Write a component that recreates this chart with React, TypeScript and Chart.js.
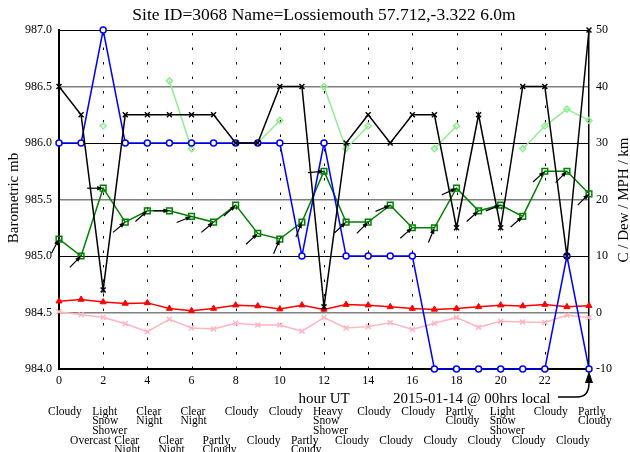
import React, { useEffect, useRef } from 'react';
import { Chart, registerables } from 'chart.js';
Chart.register(...registerables);

const HOURS = [0, 1, 2, 3, 4, 5, 6, 7, 8, 9, 10, 11, 12, 13, 14, 15, 16, 17, 18, 19, 20, 21, 22, 23, 24];
const PRESSURE_MB = [986.5, 986.25, 984.7, 986.25, 986.25, 986.25, 986.25, 986.25, 986.0, 986.0, 986.5, 986.5, 984.55, 986.0, 986.25, 986.0, 986.25, 986.25, 985.25, 986.25, 985.25, 986.5, 986.5, 985.0, 987.0];
const VISIBILITY_KM = [30, 30, 50, 30, 30, 30, 30, 30, 30, 30, 30, 10, 30, 10, 10, 10, 10, -10, -10, -10, -10, -10, -10, 10, -10];
const WIND_MPH = [13, 10, 22, 16, 18, 18, 17, 16, 19, 14, 13, 16, 25, 16, 16, 19, 15, 15, 22, 18, 19, 17, 25, 25, 21];
const WIND_FROM_DEG = [208, 225, 270, 230, 228, 270, 248, 230, 227, 227, 203, 202, 265, 227, 225, 247, 229, 202, 246, 228, 249, 229, 228, 225, 225];
const GUST_MPH = [null, null, 33, null, null, 41, 29, null, null, 30, 34, null, 40, 29, 33, null, null, 29, 33, null, null, 29, 33, 36, 34];
const TEMP_C = [2.0, 2.3, 1.85, 1.6, 1.7, 0.7, 0.3, 0.7, 1.3, 1.15, 0.6, 1.3, 0.55, 1.4, 1.3, 1.0, 0.7, 0.55, 0.7, 1.0, 1.3, 1.15, 1.4, 1.0, 1.2];
const DEW_C = [0.15, -0.4, -0.85, -2.0, -3.4, -1.2, -2.75, -2.9, -1.9, -2.2, -2.2, -3.3, -0.9, -2.75, -2.5, -1.8, -3.0, -1.9, -0.9, -2.6, -1.55, -1.7, -1.75, -0.5, -0.9];
const WEATHER = [
  'Cloudy', 'Overcast', 'Light\nSnow\nShower', 'Clear\nNight', 'Clear\nNight', 'Clear\nNight',
  'Clear\nNight', 'Partly\nCloudy', 'Cloudy', 'Cloudy', 'Cloudy', 'Partly\nCoudy',
  'Heavy\nSnow\nShower', 'Cloudy', 'Cloudy', 'Cloudy', 'Cloudy', 'Cloudy',
  'Partly\nCloudy', 'Cloudy', 'Light\nSnow\nShower', 'Cloudy', 'Cloudy', 'Cloudy', 'Partly\nCloudy',
];
const X_TICK_LABELS = ['0', '2', '4', '6', '8', '10', '12', '14', '16', '18', '20', '22', ''];

const TITLE = 'Site ID=3068 Name=Lossiemouth 57.712,-3.322 6.0m';
const LEFT_TITLE = 'Barometric mb';
const RIGHT_TITLE = 'C / Dew / MPH / km';
const X_TITLE = 'hour UT';
const DATE_NOTE = '2015-01-14 @ 00hrs local';

const FONT = '"Liberation Serif", "Times New Roman", serif';

const pts = (vals: (number | null)[]) => HOURS.map((h, i) => ({ x: h, y: vals[i] }));

const decorPlugin = {
  id: 'decor',
  beforeDatasetsDraw(chart: any) {
    const { ctx, chartArea, scales } = chart;
    const xs = scales.x;
    ctx.save();
    ctx.strokeStyle = '#000';
    ctx.lineWidth = 1;
    ctx.setLineDash([2.5, 12]);
    for (let h = 2; h <= 22; h += 2) {
      const px = Math.round(xs.getPixelForValue(h)) + 0.5;
      ctx.beginPath();
      ctx.moveTo(px, chartArea.bottom);
      ctx.lineTo(px, chartArea.top);
      ctx.stroke();
    }
    ctx.restore();
  },
  afterDatasetsDraw(chart: any) {
    const { ctx, chartArea, scales } = chart;
    const xs = scales.x;
    const y1 = scales.y1;
    ctx.save();
    // wind direction arrows
    ctx.strokeStyle = '#000';
    ctx.fillStyle = '#000';
    ctx.lineWidth = 1.2;
    const L = 16;
    HOURS.forEach((h, i) => {
      const px = xs.getPixelForValue(h);
      const py = y1.getPixelForValue(WIND_MPH[i]);
      const toward = ((WIND_FROM_DEG[i] + 180) * Math.PI) / 180;
      const dx = Math.sin(toward);
      const dy = -Math.cos(toward);
      ctx.beginPath();
      ctx.moveTo(px - L * dx, py - L * dy);
      ctx.lineTo(px - 4 * dx, py - 4 * dy);
      ctx.stroke();
      const bx = px - 6 * dx, by = py - 6 * dy;
      const nx = -dy, ny = dx;
      ctx.beginPath();
      ctx.moveTo(px, py);
      ctx.lineTo(bx + 2.2 * nx, by + 2.2 * ny);
      ctx.lineTo(bx - 2.2 * nx, by - 2.2 * ny);
      ctx.closePath();
      ctx.fill();
    });

    // weather texts
    ctx.fillStyle = '#000';
    ctx.font = `11.5px ${FONT}`;
    ctx.textAlign = 'left';
    ctx.textBaseline = 'middle';
    HOURS.forEach((h, i) => {
      const px = xs.getPixelForValue(h) - 11;
      const y0 = i % 2 === 0 ? 411.5 : 440.5;
      WEATHER[i].split('\n').forEach((line, k) => {
        ctx.fillText(line, px, y0 + k * 9.5);
      });
    });

    // title
    ctx.font = `17.5px ${FONT}`;
    ctx.textAlign = 'center';
    ctx.textBaseline = 'alphabetic';
    ctx.fillText(TITLE, 324, 20);

    // x title and date note
    ctx.font = `15px ${FONT}`;
    ctx.fillText(X_TITLE, xs.getPixelForValue(12), 403);
    ctx.textAlign = 'left';
    ctx.fillText(DATE_NOTE, 393, 403);

    // axis titles
    ctx.textAlign = 'center';
    ctx.textBaseline = 'middle';
    ctx.save();
    ctx.translate(14, 198);
    ctx.rotate(-Math.PI / 2);
    ctx.fillText(LEFT_TITLE, 0, 0);
    ctx.restore();
    ctx.save();
    ctx.translate(624, 200);
    ctx.rotate(-Math.PI / 2);
    ctx.fillText(RIGHT_TITLE, 0, 0);
    ctx.restore();

    // curved note arrow pointing to last hour at axis bottom
    const tipX = xs.getPixelForValue(HOURS[HOURS.length - 1]);
    const tipY = chartArea.bottom + 2;
    ctx.lineWidth = 1.5;
    ctx.beginPath();
    ctx.moveTo(558, 397);
    ctx.lineTo(577, 397);
    ctx.quadraticCurveTo(tipX, 397, tipX, tipY + 12);
    ctx.stroke();
    ctx.beginPath();
    ctx.moveTo(tipX, tipY);
    ctx.lineTo(tipX - 4, tipY + 12);
    ctx.lineTo(tipX + 4, tipY + 12);
    ctx.closePath();
    ctx.fill();
    ctx.restore();
  },
};

export default function App() {
  const ref = useRef<HTMLCanvasElement>(null);
  useEffect(() => {
    if (!ref.current) return;
    const chart = new Chart(ref.current, {
      type: 'line',
      data: {
        datasets: [
          {
            label: 'Pressure',
            data: pts(PRESSURE_MB),
            yAxisID: 'y',
            borderColor: '#000',
            backgroundColor: '#000',
            borderWidth: 1.5,
            pointStyle: 'crossRot',
            pointRadius: 3.5,
            pointBorderWidth: 1.5,
            order: 0,
            clip: false,
          },
          {
            label: 'Visibility',
            data: pts(VISIBILITY_KM),
            yAxisID: 'y1',
            borderColor: '#0000ff',
            backgroundColor: '#ffffff',
            borderWidth: 1.5,
            pointStyle: 'circle',
            pointRadius: 3,
            pointBorderWidth: 1.5,
            order: 1,
            clip: false,
          },
          {
            label: 'Wind',
            data: pts(WIND_MPH),
            yAxisID: 'y1',
            borderColor: '#008000',
            backgroundColor: 'rgba(0,0,0,0)',
            borderWidth: 1.5,
            pointStyle: 'rect',
            pointRadius: 4,
            pointBorderWidth: 1.5,
            order: 2,
            clip: false,
          },
          {
            label: 'Gust',
            data: pts(GUST_MPH),
            yAxisID: 'y1',
            borderColor: '#90ee90',
            backgroundColor: 'rgba(0,0,0,0)',
            borderWidth: 1.5,
            pointStyle: 'rectRot',
            pointRadius: 3,
            pointBorderWidth: 1.5,
            spanGaps: false,
            order: 3,
            clip: false,
          },
          {
            label: 'Temp',
            data: pts(TEMP_C),
            yAxisID: 'y1',
            borderColor: '#ff0000',
            backgroundColor: '#ff0000',
            borderWidth: 1.5,
            pointStyle: 'triangle',
            pointRadius: 3.5,
            pointBorderWidth: 1,
            order: 4,
            clip: false,
          },
          {
            label: 'Dew',
            data: pts(DEW_C),
            yAxisID: 'y1',
            borderColor: '#ffb6c1',
            backgroundColor: '#ffb6c1',
            borderWidth: 1.5,
            pointStyle: 'crossRot',
            pointRadius: 3.5,
            pointBorderWidth: 1.5,
            order: 5,
            clip: false,
          },
        ],
      },
      options: {
        animation: false,
        responsive: false,
        events: [],
        layout: { padding: { top: 30, left: 0, right: 0, bottom: 0 } },
        plugins: { legend: { display: false }, title: { display: false }, tooltip: { enabled: false } },
        elements: { line: { tension: 0 } },
        scales: {
          x: {
            type: 'linear',
            min: 0,
            max: 24,
            afterFit: (s: any) => { s.height = 83; },
            afterBuildTicks: (s: any) => {
              s.ticks = X_TICK_LABELS.map((_, i) => ({ value: i * 2 }));
            },
            ticks: {
              autoSkip: false,
              maxRotation: 0,
              padding: 5,
              color: '#000',
              font: { family: FONT, size: 12 },
              callback: (_v: any, i: number) => X_TICK_LABELS[i],
            },
            grid: { display: false, drawTicks: false },
            border: { display: true, color: '#000', width: 2 },
          },
          y: {
            type: 'linear',
            position: 'left',
            min: 984,
            max: 987,
            afterFit: (s: any) => { s.width = 59; },
            ticks: {
              stepSize: 0.5,
              padding: 7,
              color: '#000',
              font: { family: FONT, size: 12 },
              callback: (v: any) => Number(v).toFixed(1),
            },
            grid: {
              drawTicks: false,
              color: (c: any) => {
                const v = c.tick ? c.tick.value : 0;
                return Math.abs(v * 2) % 2 === 1 ? '#808080' : '#000';
              },
              lineWidth: (c: any) => {
                const v = c.tick ? c.tick.value : 0;
                return Math.abs(v * 2) % 2 === 1 ? 1.5 : 1;
              },
            },
            border: { display: true, color: '#000', width: 2 },
          },
          y1: {
            type: 'linear',
            position: 'right',
            min: -10,
            max: 50,
            afterFit: (s: any) => { s.width = 41; },
            ticks: {
              stepSize: 10,
              padding: 7,
              color: '#000',
              font: { family: FONT, size: 12 },
              callback: (v: any) => String(v),
            },
            grid: { drawOnChartArea: false, drawTicks: false },
            border: { display: true, color: '#000', width: 1.5 },
          },
        },
      },
      plugins: [decorPlugin],
    } as any);
    return () => chart.destroy();
  }, []);
  return (
    <div style={{ position: 'absolute', left: 0, top: 0, width: 630, height: 452, background: '#fff' }}>
      <canvas ref={ref} width={630} height={452} style={{ width: 630, height: 452, display: 'block' }} />
    </div>
  );
}
